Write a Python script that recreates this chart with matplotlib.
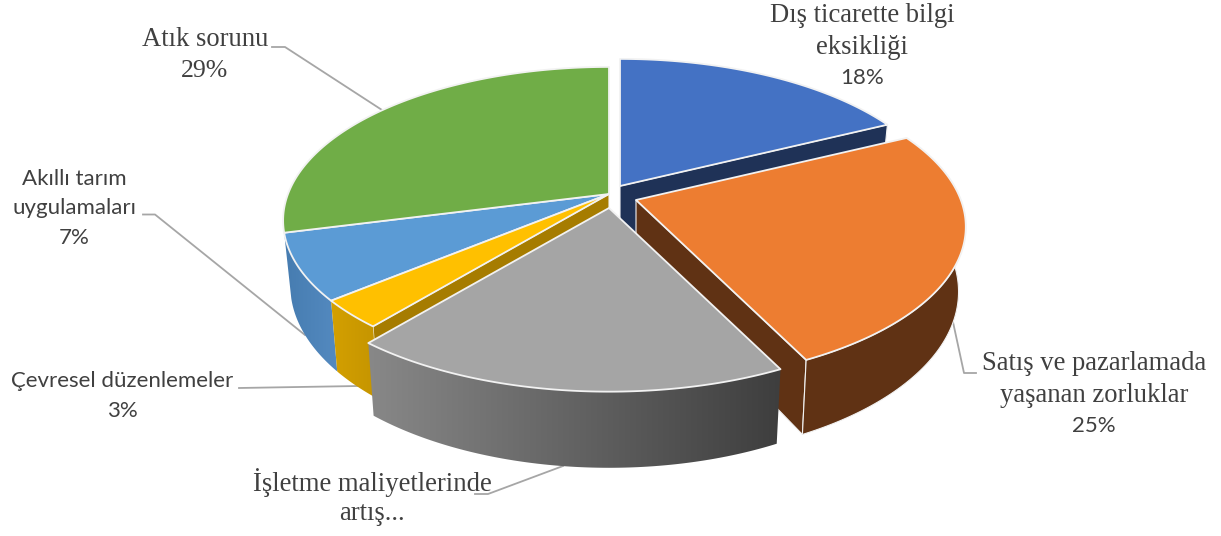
import matplotlib
matplotlib.use('Agg')
import matplotlib.pyplot as plt
import numpy as np
from matplotlib.patches import Polygon

# Data
labels = ['Dış ticarette bilgi eksikliği', 'Satış ve pazarlamada yaşanan zorluklar',
          'İşletme maliyetlerinde artış...', 'Çevresel düzenlemeler',
          'Akıllı tarım uygulamaları', 'Atık sorunu']
values = [17.7, 25.0, 18.3, 3, 7, 29]

top_colors = ['#4472c4', '#ed7d31', '#a5a5a5', '#ffc000', '#5b9bd5', '#70ad47']
wall_colors = ['#203864', '#603214', '#666666', '#cf9d00', '#4c82b5', '#5a8b39']
cut_colors = ['#1f3257', '#603214', None, '#a67c00', None, None]
tips = [(620, 186), (636, 200), (609, 208), (609, 194), (609, 194), (609, 194)]
scales = [1.0, 1.012, 1.02, 1.0, 1.0, 1.0]

# perspective of the pie
k = 0.1725
rx = 321.0
ry = 149.0
depth = 63.0
shrink = 0.978


def project(t, i):
    X, Y = np.sin(t), np.cos(t)
    w = 1 + k * Y
    return tips[i][0] + scales[i] * rx * X / w, tips[i][1] - scales[i] * ry * Y / w


def drop(x, y, t, i):
    Y = np.cos(t)
    return tips[i][0] + (x - tips[i][0]) * shrink, y + depth / (1 + k * Y)


fig = plt.figure(figsize=(12.21, 5.36), dpi=100)
ax = fig.add_axes([0, 0, 1, 1])
ax.set_xlim(0, 1221)
ax.set_ylim(536, 0)
ax.axis('off')

edges = np.cumsum([0] + values) / sum(values) * 2 * np.pi


def arc(i):
    t = np.linspace(edges[i], edges[i + 1], 120)
    x, y = project(t, i)
    return t, x, y


def draw_top(i, z):
    t, x, y = arc(i)
    xs = np.r_[tips[i][0], x]
    ys = np.r_[tips[i][1], y]
    ax.fill(xs, ys, color=top_colors[i], ec='#f2f2f2', lw=1.3, joinstyle='round', zorder=z)


def rim_poly(i):
    t, x, y = arc(i)
    bx, by = drop(x, y, t, i)
    return np.r_[x, bx[::-1]], np.r_[y, by[::-1]]


def draw_rim(i, z, grad=None):
    xs, ys = rim_poly(i)
    if grad is None:
        ax.fill(xs, ys, color=wall_colors[i], ec='#f2f2f2', lw=0.8, zorder=z)
        return
    poly = Polygon(np.c_[xs, ys], closed=True, transform=ax.transData, fc='none', ec='none')
    ax.add_patch(poly)
    g = np.linspace(0, 1, 256)[None, :, None]
    c0, c1 = np.array(grad[0]), np.array(grad[1])
    img = (c0 + (c1 - c0) * g) / 255
    im = ax.imshow(img, extent=[xs.min(), xs.max(), ys.max(), ys.min()],
                   aspect='auto', zorder=z)
    im.set_clip_path(poly)
    ax.set_xlim(0, 1221)
    ax.set_ylim(536, 0)


def draw_cut(i, angle, z):
    tip = tips[i]
    x, y = project(angle, i)
    bx, by = drop(x, y, angle, i)
    tx, ty = drop(tip[0], tip[1], np.pi / 2, i)
    ax.fill([tip[0], x, bx, tx], [tip[1], y, by, ty], color=cut_colors[i],
            ec='#f2f2f2', lw=0.8, zorder=z)


# back to front
draw_cut(0, edges[1], 1)
draw_top(0, 2)
draw_cut(1, edges[2], 3)
draw_rim(1, 4)
draw_top(1, 5)
draw_cut(3, edges[3], 6)
draw_rim(4, 7, grad=((70, 124, 176), (84, 138, 192)))
draw_rim(3, 8, grad=((212, 160, 0), (196, 148, 0)))
draw_top(4, 9)
draw_top(5, 9)
draw_top(3, 10)
draw_rim(2, 11, grad=((136, 136, 136), (62, 62, 62)))
draw_top(2, 12)

# leader lines
leaders = [
    ([272, 285, 382], [47, 47, 110]),
    ([143, 155, 305], [214.5, 214.5, 335]),
    ([239, 358], [388, 386]),
    ([976, 964, 953], [373, 373, 322]),
    ([475, 488, 563], [494, 494, 466]),
]
for lx, ly in leaders:
    ax.plot(lx, ly, color='#a6a6a6', lw=1.3, zorder=0)

serif = 'Liberation Serif'
sans = 'Lato'
text_color = '#404040'
texts = [
    (862, 16, 'Dış ticarette bilgi', serif, 19.2),
    (862, 47, 'eksikliği', serif, 19.2),
    (862, 78, '18%', sans, 16),
    (205, 40, 'Atık sorunu', serif, 19.2),
    (204, 71, '29%', serif, 18.5),
    (74, 179, 'Akıllı tarım', sans, 16),
    (74, 208, 'uygulamaları', sans, 16),
    (74, 238, '7%', sans, 16),
    (122, 381, 'Çevresel düzenlemeler', sans, 16),
    (122, 411, '3%', sans, 16),
    (1094, 364, 'Satış ve pazarlamada', serif, 19.2),
    (1094, 395, 'yaşanan zorluklar', serif, 19.2),
    (1094, 426, '25%', sans, 16),
    (372, 483, 'İşletme maliyetlerinde', serif, 19.2),
    (372, 514, 'artış...', serif, 19.2),
]
for x, y, s, fam, size in texts:
    ax.text(x, y, s, family=fam, fontsize=size, color=text_color,
            ha='center', va='center', zorder=20)

fig.savefig('out.png', dpi=100)
